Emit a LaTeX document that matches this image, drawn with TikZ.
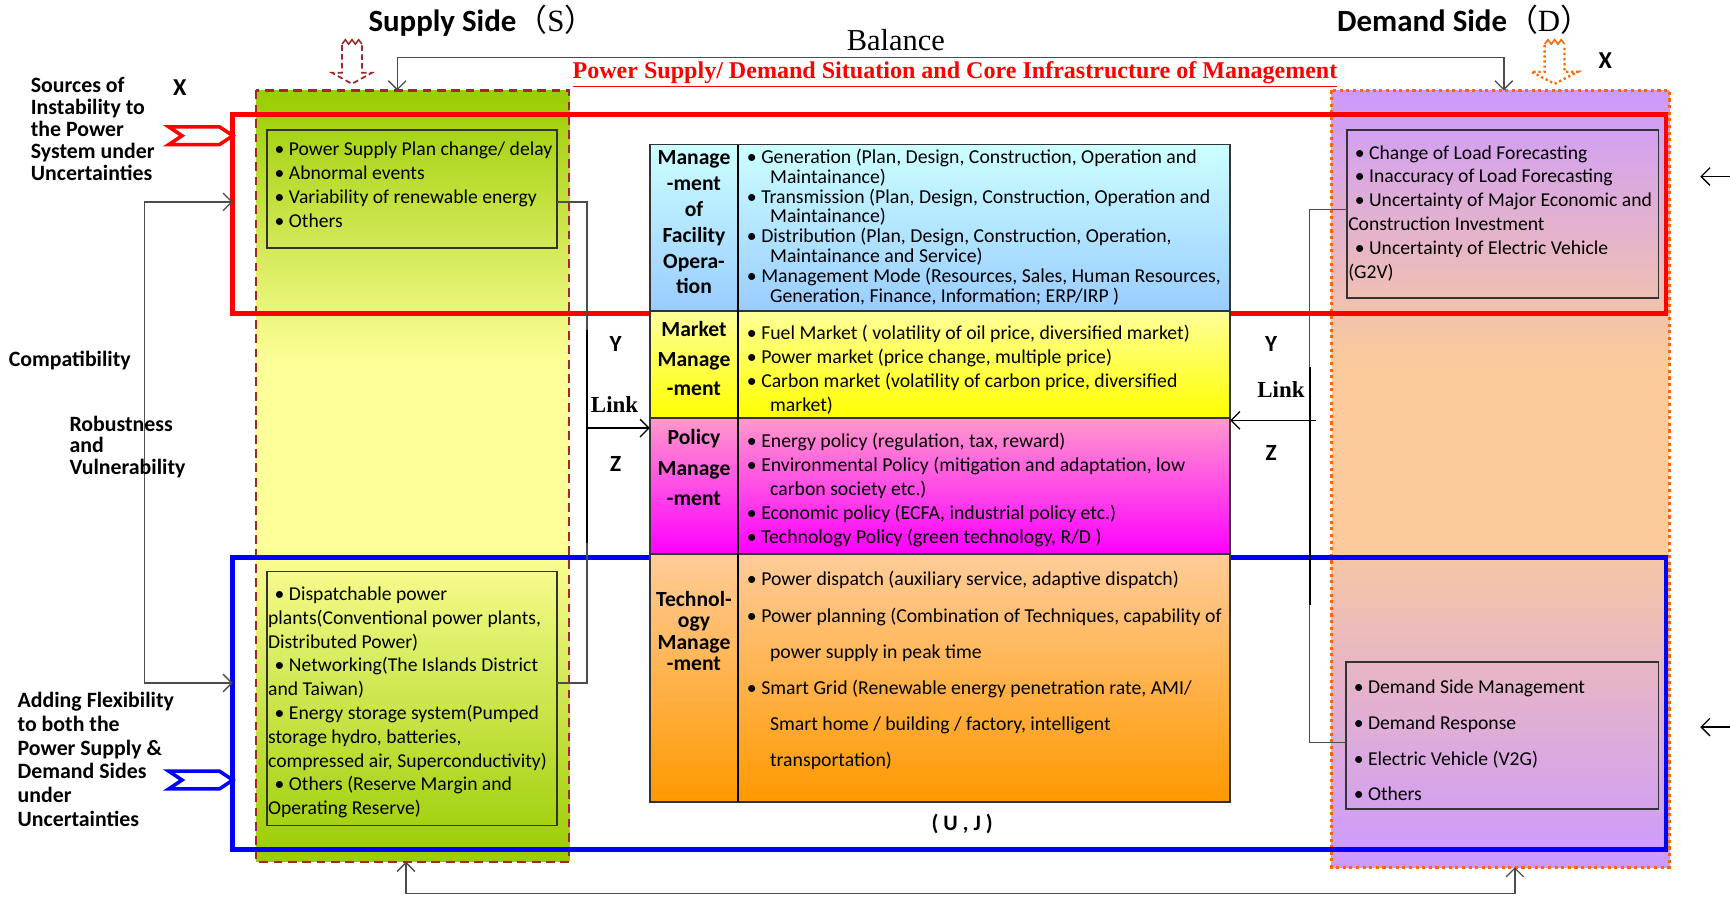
\documentclass[tikz,border=0pt]{standalone}
\usepackage{fontspec}
\setmainfont{Carlito}
\newfontfamily\tnr{Liberation Serif}
\newfontfamily\cjk{Noto Sans CJK SC}
\usetikzlibrary{arrows.meta,fit}

\definecolor{framered}{RGB}{160,40,40}
\definecolor{dotorange}{RGB}{255,102,0}
\definecolor{supgreen}{RGB}{153,204,0}
\definecolor{supyellow}{RGB}{255,255,153}
\definecolor{dempurple}{RGB}{204,153,255}
\definecolor{dempeach}{RGB}{251,203,155}
\definecolor{bandred}{RGB}{255,0,0}
\definecolor{bandblue}{RGB}{0,0,255}

\newcommand\bu{\textbullet\ }
\newcommand\ind{\hspace*{10.5pt}}
\newcommand\lead{\hspace*{3pt}}

\begin{document}
\begin{tikzpicture}[x=0.5pt,y=-0.5pt,
  every node/.style={inner sep=0pt, outer sep=0pt},
  conn/.style={draw=black!70, line width=0.6pt},
  spine/.style={draw=black, line width=0.9pt},
  barb/.style={-{Straight Barb[length=4pt,width=8pt]}},
  barbs/.style={{Straight Barb[length=4pt,width=8pt]}-{Straight Barb[length=4pt,width=8pt]}},
  listbox/.style={draw=black!80, line width=0.7pt},
  cell/.style={draw=black!80, line width=0.7pt},
  sidetext/.style={anchor=north west, align=left, font={\fontsize{8.9}{10.8}\selectfont\lineskiplimit=-20pt}},
  loosetext/.style={anchor=north west, align=left, font={\fontsize{8.9}{16.2}\selectfont\lineskiplimit=-20pt}},
  rowlabel/.style={anchor=north, align=center},
  leftnote/.style={anchor=north west, align=left},
  letter/.style={anchor=base, font=\bfseries\fontsize{10.5}{12}\selectfont},
  linkword/.style={anchor=base, font={\tnr\bfseries\fontsize{10.4}{12}\selectfont}},
]
\useasboundingbox (0,0) rectangle (1568,813);

% ---------- supply and demand regions ----------
\node[fit={(232,82) (516,781)}] (supply) {};
\node[fit={(1207,82) (1513,786)}] (demand) {};

\shade[top color=supgreen, bottom color=supyellow] (232,82) rectangle (516,330);
\fill[supyellow] (232,330) rectangle (516,505);
\shade[top color=supyellow!95!supgreen, bottom color=supgreen] (232,505) rectangle (516,781);

\shade[top color=dempurple, bottom color=dempeach] (1207,82) rectangle (1513,330);
\fill[dempeach] (1207,330) rectangle (1513,505);
\shade[top color=dempeach!90!dempurple, bottom color=dempurple] (1207,505) rectangle (1513,786);

\draw[framered, line width=1pt, dash pattern=on 4pt off 2.5pt] (supply.north west) rectangle (supply.south east);
\draw[dotorange, line width=1.5pt, dash pattern=on 1.4pt off 1.6pt] (demand.north west) rectangle (demand.south east);

% ---------- uncertainty and flexibility bands ----------
\node[fit={(211,104) (1510,284)}, draw=bandred, line width=2.2pt] (instab) {};
\node[fit={(211,505) (1510,770)}, draw=bandblue, line width=2.2pt] (flex) {};

% ---------- hollow input arrows above the regions ----------
\draw[framered, line width=0.8pt, dash pattern=on 2.5pt off 1.5pt]
  (310,41) -- (310,66) -- (301,66) -- (319,76) -- (337,66) -- (328,66) -- (328,41);
\draw[framered, line width=0.7pt] (310,40) -- (313,36) -- (316,40) -- (319,36) -- (322,40) -- (325,36) -- (328,40);
\draw[dotorange, line width=1.1pt, dash pattern=on 1pt off 1.3pt]
  (1400,41) -- (1400,65) -- (1388,65) -- (1409,76) -- (1430,65) -- (1418,65) -- (1418,41);
\draw[dotorange, line width=0.7pt] (1400,40) -- (1403,36) -- (1406,40) -- (1409,36) -- (1412,40) -- (1415,36) -- (1418,40);

% ---------- chevron inputs on the left ----------
\node[fit={(153,115) (211,131)}] (chevR) {};
\node[fit={(153,699) (211,715)}] (chevB) {};
\draw[bandred, line width=1.6pt, fill=white, line join=miter]
  (chevR.north west) -- (199,115) -- (chevR.east) -- (199,131) -- (chevR.south west) -- (165,123) -- cycle;
\draw[bandblue, line width=1.6pt, fill=white, line join=miter]
  (chevB.north west) -- (199,699) -- (chevB.east) -- (199,715) -- (chevB.south west) -- (165,707) -- cycle;

% ---------- balance loop (top) and return loop (bottom) ----------
\coordinate (balL) at (360,52);
\coordinate (balR) at (1363,52);
\draw[conn, barbs] (balL |- supply.north) -- (balL) -- (balR) -- (balR |- demand.north);
\coordinate (retL) at (368,810);
\coordinate (retR) at (1373,810);
\draw[conn, barbs] (retL |- supply.south) -- (retL) -- (retR) -- (retR |- demand.south);

% ---------- compatibility bracket on the far left ----------
\coordinate (cmpT) at (131,183);
\coordinate (cmpB) at (131,619);
\draw[conn, barbs] (instab.west |- cmpT) -- (cmpT) -- (cmpB) -- (flex.west |- cmpB);

% ---------- management table ----------
\node[fit={(589,131) (669,282)}] (r1l) {};
\node[fit={(669,131) (1115,282)}] (r1r) {};
\node[fit={(589,282) (669,379)}] (r2l) {};
\node[fit={(669,282) (1115,379)}] (r2r) {};
\node[fit={(589,379) (669,502)}] (r3l) {};
\node[fit={(669,379) (1115,502)}] (r3r) {};
\node[fit={(589,502) (669,727)}] (r4l) {};
\node[fit={(669,502) (1115,727)}] (r4r) {};

\shade[top color={rgb,255:red,204;green,255;blue,255}, bottom color={rgb,255:red,153;green,204;blue,255}] (r1l.north west) rectangle (r1r.south east);
\shade[top color={rgb,255:red,255;green,255;blue,153}, bottom color={rgb,255:red,255;green,255;blue,0}] (r2l.north west) rectangle (r2r.south east);
\shade[top color={rgb,255:red,255;green,153;blue,204}, bottom color={rgb,255:red,255;green,0;blue,255}] (r3l.north west) rectangle (r3r.south east);
\shade[top color={rgb,255:red,255;green,204;blue,153}, bottom color={rgb,255:red,255;green,153;blue,0}] (r4l.north west) rectangle (r4r.south east);
\foreach \r in {r1,r2,r3,r4} {
  \draw[cell] (\r l.north west) rectangle (\r r.south east);
}
\draw[black, line width=1.1pt] (r1l.north east) -- (r4l.south east);

% row labels
\node[rowlabel, font={\bfseries\fontsize{9.8}{11.7}\selectfont\lineskiplimit=-20pt}] (lab1) at (629,133)
  {\strut Manage\\-ment\\of\\Facility\\Opera-\\tion};
\node[rowlabel, font={\bfseries\fontsize{9.8}{13.5}\selectfont\lineskiplimit=-20pt}] (lab2) at (629,286)
  {\strut Market\\Manage\\-ment};
\node[rowlabel, font={\bfseries\fontsize{9.8}{13.7}\selectfont\lineskiplimit=-20pt}] (lab3) at (629,384)
  {\strut Policy\\Manage\\-ment};
\node[rowlabel, font={\bfseries\fontsize{9.8}{9.7}\selectfont\lineskiplimit=-20pt}] (lab4) at (629,536)
  {\strut Technol-\\ogy\\Manage\\-ment};

% row contents
\node[anchor=north west, align=left, font={\fontsize{8.95}{9}\selectfont\lineskiplimit=-20pt}] (txt1) at (677,135)
  {\strut\bu Generation (Plan, Design, Construction, Operation and\\
   \ind Maintainance)\\
   \bu Transmission (Plan, Design, Construction, Operation and\\
   \ind Maintainance)\\
   \bu Distribution (Plan, Design, Construction, Operation,\\
   \ind Maintainance and Service)\\
   \bu Management Mode (Resources, Sales, Human Resources,\\
   \ind Generation, Finance, Information; ERP/IRP )};
\node[anchor=north west, align=left, font={\fontsize{8.95}{10.8}\selectfont\lineskiplimit=-20pt}] (txt2) at (677,293)
  {\strut\bu Fuel Market ( volatility of oil price, diversified market)\\
   \bu Power market (price change, multiple price)\\
   \bu Carbon market (volatility of carbon price, diversified\\
   \ind market)};
\node[anchor=north west, align=left, font={\fontsize{8.95}{10.9}\selectfont\lineskiplimit=-20pt}] (txt3) at (677,390)
  {\strut\bu Energy policy (regulation, tax, reward)\\
   \bu Environmental Policy (mitigation and adaptation, low\\
   \ind carbon society etc.)\\
   \bu Economic policy (ECFA, industrial policy etc.)\\
   \bu Technology Policy (green technology, R/D )};
\node[anchor=north west, align=left, font={\fontsize{8.95}{16.4}\selectfont\lineskiplimit=-20pt}] (txt4) at (677,508)
  {\strut\bu Power dispatch (auxiliary service, adaptive dispatch)\\
   \bu Power planning (Combination of Techniques, capability of\\
   \ind power supply in peak time\\
   \bu Smart Grid (Renewable energy penetration rate, AMI/\\
   \ind Smart home / building / factory, intelligent\\
   \ind transportation)};

\node[anchor=base, font=\bfseries\fontsize{10}{12}\selectfont] (uj) at (872,753) {( U , J )};

% ---------- supply side lists ----------
\node[fit={(242,118) (505,225)}, listbox] (sb1) {};
\node[fit={(242,518) (505,748)}, listbox] (sb2) {};
\node[sidetext] (sb1t) at (249,126)
  {\strut\bu Power Supply Plan change/ delay\\
   \bu Abnormal events\\
   \bu Variability of renewable energy\\
   \bu Others};
\node[sidetext] (sb2t) at (243,529)
  {\strut\lead\bu Dispatchable power\\
   plants(Conventional power plants,\\
   Distributed Power)\\
   \lead\bu Networking(The Islands District\\
   and Taiwan)\\
   \lead\bu Energy storage system(Pumped\\
   storage hydro, batteries,\\
   compressed air, Superconductivity)\\
   \lead\bu Others (Reserve Margin and\\
   Operating Reserve)};

% ---------- demand side lists ----------
\node[fit={(1221,118) (1503,270)}, listbox] (db1) {};
\node[fit={(1220,600) (1503,733)}, listbox] (db2) {};
\node[sidetext] (db1t) at (1222,129)
  {\strut\lead\bu Change of Load Forecasting\\
   \lead\bu Inaccuracy of Load Forecasting\\
   \lead\bu Uncertainty of Major Economic and\\
   Construction Investment\\
   \lead\bu Uncertainty of Electric Vehicle\\
   (G2V)};
\node[loosetext] (db2t) at (1227,606)
  {\strut\bu Demand Side Management\\
   \bu Demand Response\\
   \bu Electric Vehicle (V2G)\\
   \bu Others};

% ---------- link brackets between the lists and the table ----------
\coordinate (lbT) at (532,183);
\coordinate (lbB) at (532,619);
\draw[conn] (sb1.east |- lbT) -- (lbT) -- (lbB) -- (sb2.east |- lbB);
\coordinate (lsT) at (532,299);
\coordinate (lsB) at (532,492);
\draw[spine] (lsT) -- (lsB);
\coordinate (lsM) at (532,388);
\draw[conn, draw=black, barb] (lsM) -- (lsM -| r3l.west);

\coordinate (rbT) at (1187,190);
\coordinate (rbB) at (1187,673);
\draw[conn] (db1.west |- rbT) -- (rbT) -- (rbB) -- (db2.west |- rbB);
\coordinate (rsT) at (1187,333);
\coordinate (rsB) at (1187,548);
\draw[spine] (rsT) -- (rsB);
\coordinate (rsM) at (1193,381);
\draw[conn, draw=black, barb] (rsM) -- (rsM -| r3r.east);

% ---------- arrows entering from the right edge ----------
\coordinate (edge1) at (1568,160);
\coordinate (edge1t) at (1541,160);
\coordinate (edge2) at (1568,659);
\coordinate (edge2t) at (1541,659);
\draw[conn, draw=black, barb] (edge1) -- (edge1t);
\draw[conn, draw=black, barb] (edge2) -- (edge2t);

% ---------- titles ----------
\node[anchor=base west, font=\fontsize{14}{16}\selectfont] (supT) at (334,29)
  {{\bfseries Supply Side}{\cjk （}{\tnr S}{\cjk ）}};
\node[anchor=base west, font=\fontsize{14}{16}\selectfont] (demT) at (1212,29)
  {{\bfseries Demand Side}{\cjk （}{\tnr D}{\cjk ）}};
\node[anchor=base, font={\tnr\fontsize{13.8}{15}\selectfont}] (bal) at (812,46) {Balance};
\node[anchor=base west, text=bandred, font={\tnr\bfseries\fontsize{10.9}{12}\selectfont}] (head) at (519,71)
  {\underline{Power Supply/ Demand Situation and Core Infrastructure of Management}};

% ---------- letters ----------
\node[letter, font=\bfseries\fontsize{11}{12}\selectfont] (xL) at (163,87) {X};
\node[letter, font=\bfseries\fontsize{11}{12}\selectfont] (xR) at (1455,62) {X};
\node[letter] (yL) at (558,319) {Y};
\node[letter] (zL) at (558,427) {Z};
\node[linkword] (kL) at (557,374) {Link};
\node[letter] (yR) at (1152,319) {Y};
\node[letter] (zR) at (1152,417) {Z};
\node[linkword] (kR) at (1161,360) {Link};

% ---------- notes on the left ----------
\node[leftnote, font={\bfseries\fontsize{9.9}{10}\selectfont\lineskiplimit=-20pt}] (srcs) at (28,70)
  {\strut Sources of\\Instability to\\the Power\\System under\\Uncertainties};
\node[anchor=base west, font=\bfseries\fontsize{9.9}{10}\selectfont] (compat) at (8,332) {Compatibility};
\node[leftnote, font={\bfseries\fontsize{9.9}{9.75}\selectfont\lineskiplimit=-20pt}] (robust) at (63,377)
  {\strut Robustness\\and\\Vulnerability};
\node[leftnote, font={\bfseries\fontsize{9.9}{10.8}\selectfont\lineskiplimit=-20pt}] (addflex) at (16,626)
  {\strut Adding Flexibility\\to both the\\Power Supply \&\\Demand Sides\\under\\Uncertainties};
\end{tikzpicture}
\end{document}
